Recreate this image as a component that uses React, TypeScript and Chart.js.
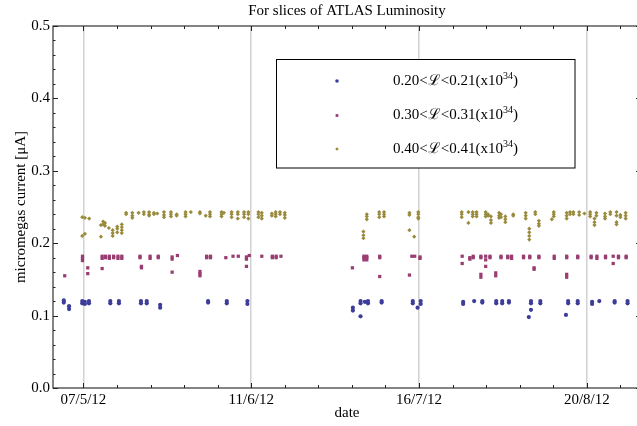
import React, { useEffect, useRef } from 'react';
import { Chart, registerables } from 'chart.js';

Chart.register(...registerables);

// ---------- axis setup ----------
const START_DATE = new Date(2012, 4, 7); // day 0 = 07/5/12
const X_MIN = -6.35;
const X_MAX = 116.3;
const X_MAJOR_DAYS = [0, 35, 70, 105];
const X_MINOR_STEP = 7;
const Y_MIN = 0;
const Y_MAX = 0.5;
const Y_MINOR_COUNT = 25; // steps of 0.02

const TITLE = 'For slices of ATLAS Luminosity';
const X_TITLE = 'date';
const Y_TITLE = 'micromegas current [μA]';

const SERIES_LABEL_MAIN = ['0.20<ℒ<0.21(x10', '0.30<ℒ<0.31(x10', '0.40<ℒ<0.41(x10'];
const SERIES_LABEL_SUP = ['34', '34', '34'];
const SERIES_LABEL_END = [')', ')', ')'];
const SERIES_COLORS = ['#3d3d99', '#993d71', '#998b3d'];

// ---------- data (days since 07/5/12, current in µA) ----------
const blueDays = [-4.1, -3.0, -0.25, 0.3, 1.15, 5.6, 7.4, 12.0, 13.2, 16.0, 26.0, 29.9, 34.2,
  56.2, 57.8, 58.7, 59.35, 62.2, 68.7, 69.7, 70.35,
  79.2, 81.5, 83.2, 86.1, 87.35, 88.75, 92.9, 93.35, 95.3, 100.65, 101.1, 103.1, 106.1, 107.6, 110.8, 113.5];
const blueValues = [[0.118, 0.121], [0.109, 0.113], [0.117, 0.120], [0.116, 0.119], [0.117, 0.120],
  [0.117, 0.120], [0.117, 0.120], [0.117, 0.120], [0.117, 0.120], [0.111, 0.115], [0.118, 0.120],
  [0.117, 0.120], [0.116, 0.120],
  [0.107, 0.111], [0.117, 0.120, 0.099], [0.119], [0.117, 0.120], [0.118, 0.120], [0.117, 0.120],
  [0.111], [0.116, 0.120],
  [0.116, 0.119], [0.120], [0.118, 0.120], [0.117, 0.120], [0.117, 0.120], [0.118, 0.120], [0.098],
  [0.117, 0.120, 0.108], [0.117, 0.120], [0.101], [0.117, 0.120], [0.117, 0.120], [0.116, 0.119],
  [0.120], [0.118, 0.120], [0.117, 0.120]];

const magentaDays = [-3.9, -0.2, 0.9, 3.9, 4.6, 5.4, 6.3, 7.2, 8.0, 11.8, 12.1, 13.9, 15.6, 18.5, 19.6,
  24.3, 25.7, 26.5, 29.7, 31.2, 32.3, 34.0, 34.6, 37.2, 39.4, 40.2, 41.2,
  56.1, 58.5, 59.1, 61.8, 68.0, 68.5, 69.1, 70.2,
  79.0, 80.6, 81.3, 82.9, 83.9, 84.8, 86.0, 87.1, 88.5, 89.3, 91.8, 93.1, 94.0, 95.0, 98.2,
  100.8, 103.1, 105.9, 107.1, 108.9, 110.5, 111.6, 113.2];
const magentaValues = [[0.155], [0.176, 0.179, 0.182], [0.166, 0.158], [0.179, 0.182, 0.165],
  [0.180, 0.182], [0.179, 0.182], [0.180, 0.182], [0.179, 0.182], [0.179, 0.182], [0.180, 0.182],
  [0.166, 0.168], [0.179, 0.182], [0.180, 0.182], [0.178, 0.181, 0.160], [0.183],
  [0.155, 0.158, 0.161], [0.180, 0.182], [0.180, 0.182], [0.180], [0.182], [0.182],
  [0.178, 0.181, 0.168], [0.183], [0.182], [0.180, 0.182], [0.180, 0.182], [0.182],
  [0.166], [0.177, 0.180, 0.182], [0.177, 0.180, 0.182], [0.180, 0.182, 0.154], [0.156], [0.182],
  [0.182], [0.179, 0.181],
  [0.182, 0.172], [0.178, 0.180], [0.180, 0.182], [0.180, 0.182, 0.157, 0.153], [0.177, 0.168, 0.182],
  [0.180, 0.182], [0.159, 0.155], [0.180, 0.182], [0.180, 0.182], [0.179, 0.182], [0.180, 0.182],
  [0.180, 0.182], [0.164, 0.166], [0.180, 0.182], [0.179, 0.182],
  [0.180, 0.182, 0.157, 0.153], [0.180, 0.182], [0.180, 0.182], [0.179, 0.182], [0.180, 0.182],
  [0.172, 0.182], [0.180, 0.182], [0.180, 0.182]];

const oliveDays = [-0.25, 0.3, 1.2, 3.65, 4.1, 4.5, 5.3, 6.1, 7.05, 8.0, 8.9, 10.2, 11.5, 12.6, 13.7,
  14.7, 15.4, 16.8, 18.25, 19.45, 21.3, 22.4, 24.3, 25.5, 26.4, 28.8, 29.3, 30.9, 32.2, 33.5, 34.4,
  36.5, 37.2, 39.3, 40.1, 41.0, 42.0,
  58.4, 59.1, 61.7, 62.7, 68.0, 69.0, 69.85,
  78.9, 80.3, 81.2, 82.0, 83.9, 84.4, 85.0, 86.7, 87.1, 88.0, 89.65, 92.25, 93.0, 94.25, 95.0, 97.7,
  98.1, 100.8, 101.5, 102.2, 103.4, 104.5, 105.7, 106.6, 107.0, 108.8, 109.9, 111.2, 112.0, 113.1];
const oliveValues = [[0.236, 0.210], [0.235, 0.213], [0.234], [0.209, 0.225], [0.230, 0.226],
  [0.228, 0.224], [0.221], [0.210, 0.214, 0.218], [0.220, 0.215, 0.223], [0.222, 0.218, 0.226, 0.214],
  [0.240, 0.242], [0.242, 0.238, 0.235], [0.242], [0.243, 0.240], [0.243, 0.240, 0.238],
  [0.242, 0.240], [0.241], [0.243, 0.239, 0.236], [0.243, 0.240, 0.237], [0.240, 0.238],
  [0.243, 0.240, 0.237], [0.243], [0.243, 0.241], [0.238], [0.243, 0.240, 0.237],
  [0.243, 0.240, 0.237], [0.242], [0.243, 0.240, 0.236], [0.243, 0.240, 0.234],
  [0.243, 0.240, 0.236], [0.243, 0.240, 0.234], [0.243, 0.240, 0.236], [0.242, 0.238, 0.234],
  [0.241, 0.238], [0.243, 0.240, 0.237], [0.243, 0.240], [0.242, 0.239, 0.235],
  [0.207, 0.211, 0.216], [0.240, 0.237, 0.233], [0.243, 0.240, 0.236], [0.243, 0.240, 0.237],
  [0.242, 0.239, 0.218], [0.209], [0.243, 0.240, 0.236, 0.234],
  [0.243, 0.240, 0.236], [0.243, 0.228], [0.243, 0.240, 0.237], [0.243, 0.240, 0.237],
  [0.243, 0.240, 0.237], [0.240, 0.238], [0.237, 0.232, 0.228], [0.242, 0.238, 0.235],
  [0.240, 0.236], [0.237, 0.233, 0.229], [0.240, 0.238], [0.242, 0.238, 0.234],
  [0.220, 0.215, 0.210, 0.205], [0.243, 0.240], [0.231, 0.227, 0.224], [0.233],
  [0.243, 0.240, 0.237], [0.242, 0.238, 0.234], [0.243, 0.240], [0.243, 0.240], [0.243, 0.239],
  [0.241], [0.243, 0.240, 0.237], [0.234, 0.229, 0.225], [0.242, 0.238], [0.241, 0.237, 0.234],
  [0.243, 0.240], [0.243, 0.238, 0.229, 0.226], [0.239, 0.236], [0.242, 0.238, 0.234]];

function toPoints(days: number[], values: number[][]) {
  const pts: { x: number; y: number }[] = [];
  days.forEach((d, i) => {
    (values[i] || []).forEach((v) => pts.push({ x: d, y: v }));
  });
  return pts;
}

function formatDay(day: number): string {
  const d = new Date(START_DATE.getTime());
  d.setDate(d.getDate() + Math.round(day));
  const dd = String(d.getDate()).padStart(2, '0');
  const m = d.getMonth() + 1;
  const yy = String(d.getFullYear()).slice(2);
  return `${dd}/${m}/${yy}`;
}

const FONT_FAMILY = "'Liberation Serif', 'DejaVu Serif', serif";

const MARKER_STYLES = ['circle', 'rect', 'rectRot'];
const MARKER_RADII = [2.1, 2.3, 2.1];

function drawMarker(ctx: CanvasRenderingContext2D, style: string, x: number, y: number, r: number) {
  ctx.beginPath();
  if (style === 'circle') {
    ctx.arc(x, y, r, 0, Math.PI * 2);
  } else if (style === 'rect') {
    const s = r * Math.SQRT1_2;
    ctx.rect(x - s, y - s, 2 * s, 2 * s);
  } else {
    ctx.moveTo(x, y - r);
    ctx.lineTo(x + r, y);
    ctx.lineTo(x, y + r);
    ctx.lineTo(x - r, y);
    ctx.closePath();
  }
  ctx.fill();
}

const framePlugin = {
  id: 'mmaFrame',
  beforeDatasetsDraw(chart: any) {
    const { ctx, chartArea, scales } = chart;
    const { left, right, top, bottom } = chartArea;
    ctx.save();
    ctx.strokeStyle = '#333333';
    ctx.lineWidth = 1.2;
    ctx.strokeRect(left, top, right - left, bottom - top);
    ctx.lineWidth = 1;
    ctx.strokeStyle = '#222222';
    // x ticks, inward on bottom and top
    scales.x.ticks.forEach((t: any) => {
      const px = Math.round(scales.x.getPixelForValue(t.value)) + 0.5;
      const major = X_MAJOR_DAYS.includes(t.value);
      const len = major ? 5 : 3;
      ctx.beginPath();
      ctx.moveTo(px, bottom);
      ctx.lineTo(px, bottom - len);
      ctx.moveTo(px, top);
      ctx.lineTo(px, top + len);
      ctx.stroke();
    });
    // y ticks, inward on left and right
    scales.y.ticks.forEach((t: any, i: number) => {
      const py = Math.round(scales.y.getPixelForValue(t.value)) + 0.5;
      const major = i % 5 === 0;
      const len = major ? 5 : 2.5;
      ctx.beginPath();
      ctx.moveTo(left, py);
      ctx.lineTo(left + len, py);
      ctx.moveTo(right, py);
      ctx.lineTo(right - len, py);
      ctx.stroke();
    });
    // title
    ctx.fillStyle = '#000';
    ctx.font = `15px ${FONT_FAMILY}`;
    ctx.textAlign = 'center';
    ctx.textBaseline = 'middle';
    ctx.fillText(TITLE, (left + right) / 2, 11);
    ctx.restore();
  },
  afterDatasetsDraw(chart: any) {
    const { ctx } = chart;
    ctx.save();
    const bx = 276.5, by = 59.5, bw = 298.5, bh = 108.5;
    ctx.fillStyle = '#ffffff';
    ctx.fillRect(bx, by, bw, bh);
    ctx.strokeStyle = '#000';
    ctx.lineWidth = 1;
    ctx.strokeRect(bx, by, bw, bh);
    const rowY = [81, 115.5, 149];
    SERIES_LABEL_MAIN.forEach((label, i) => {
      ctx.fillStyle = SERIES_COLORS[i];
      drawMarker(ctx, MARKER_STYLES[i], 337, rowY[i], MARKER_RADII[i] * 0.85);
      ctx.fillStyle = '#000';
      ctx.textAlign = 'left';
      ctx.textBaseline = 'middle';
      ctx.font = `15px ${FONT_FAMILY}`;
      let x = 393;
      ctx.fillText(label, x, rowY[i]);
      x += ctx.measureText(label).width;
      ctx.font = `10px ${FONT_FAMILY}`;
      ctx.fillText(SERIES_LABEL_SUP[i], x, rowY[i] - 5);
      x += ctx.measureText(SERIES_LABEL_SUP[i]).width;
      ctx.font = `15px ${FONT_FAMILY}`;
      ctx.fillText(SERIES_LABEL_END[i], x, rowY[i]);
    });
    ctx.restore();
  },
};

export default function App() {
  const canvasRef = useRef<HTMLCanvasElement | null>(null);

  useEffect(() => {
    const canvas = canvasRef.current;
    if (!canvas) return;
    Chart.defaults.font.family = FONT_FAMILY;
    Chart.defaults.color = '#000';

    const datasets = [
      toPoints(blueDays, blueValues),
      toPoints(magentaDays, magentaValues),
      toPoints(oliveDays, oliveValues),
    ].map((data, i) => ({
      label: SERIES_LABEL_MAIN[i] + SERIES_LABEL_SUP[i] + SERIES_LABEL_END[i],
      data,
      showLine: false,
      pointStyle: MARKER_STYLES[i],
      pointRadius: MARKER_RADII[i],
      pointBorderWidth: 0,
      pointBackgroundColor: SERIES_COLORS[i],
      pointBorderColor: SERIES_COLORS[i],
      backgroundColor: SERIES_COLORS[i],
      borderColor: SERIES_COLORS[i],
    }));

    const chart = new Chart(canvas, {
      type: 'scatter',
      data: { datasets },
      plugins: [framePlugin],
      options: {
        animation: false,
        responsive: false,
        devicePixelRatio: 1,
        layout: { padding: { left: 0, right: 4, top: 26, bottom: 0 } },
        plugins: {
          legend: { display: false },
          title: { display: false },
          tooltip: { enabled: false },
        },
        scales: {
          x: {
            type: 'linear',
            min: X_MIN,
            max: X_MAX,
            afterBuildTicks: (scale: any) => {
              const t = [];
              for (let d = 0; d <= X_MAX; d += X_MINOR_STEP) t.push({ value: d });
              scale.ticks = t;
            },
            afterFit: (scale: any) => {
              scale.height = 38;
            },
            ticks: {
              autoSkip: false,
              maxRotation: 0,
              minRotation: 0,
              padding: 3,
              color: '#000',
              font: { size: 15 },
              callback: (v: any) => (X_MAJOR_DAYS.includes(Number(v)) ? formatDay(Number(v)) : ''),
            },
            grid: {
              drawTicks: false,
              lineWidth: 1.5,
              color: (ctx: any) =>
                ctx.tick && X_MAJOR_DAYS.includes(ctx.tick.value) ? '#d2d2d2' : 'rgba(0,0,0,0)',
            },
            border: { display: false },
            title: {
              display: true,
              text: X_TITLE,
              color: '#000',
              font: { size: 15 },
              padding: { top: 0, bottom: 4 },
            },
          },
          y: {
            type: 'linear',
            min: Y_MIN,
            max: Y_MAX,
            afterBuildTicks: (scale: any) => {
              const t = [];
              for (let i = 0; i <= Y_MINOR_COUNT; i++) t.push({ value: i / 50 });
              scale.ticks = t;
            },
            afterFit: (scale: any) => {
              scale.width = 53;
            },
            ticks: {
              autoSkip: false,
              padding: 3,
              color: '#000',
              font: { size: 15 },
              callback: (v: any) => {
                const n = Number(v);
                return Math.abs(n * 10 - Math.round(n * 10)) < 1e-6 ? n.toFixed(1) : '';
              },
            },
            grid: { display: false, drawTicks: false },
            border: { display: false },
            title: {
              display: true,
              text: Y_TITLE,
              color: '#000',
              font: { size: 15 },
              padding: { top: 12, bottom: 0 },
            },
          },
        },
      },
    } as any);

    return () => chart.destroy();
  }, []);

  return (
    <canvas
      ref={canvasRef}
      width={645}
      height={426}
      style={{ position: 'fixed', left: 0, top: 0, width: 645, height: 426, display: 'block' }}
    />
  );
}
